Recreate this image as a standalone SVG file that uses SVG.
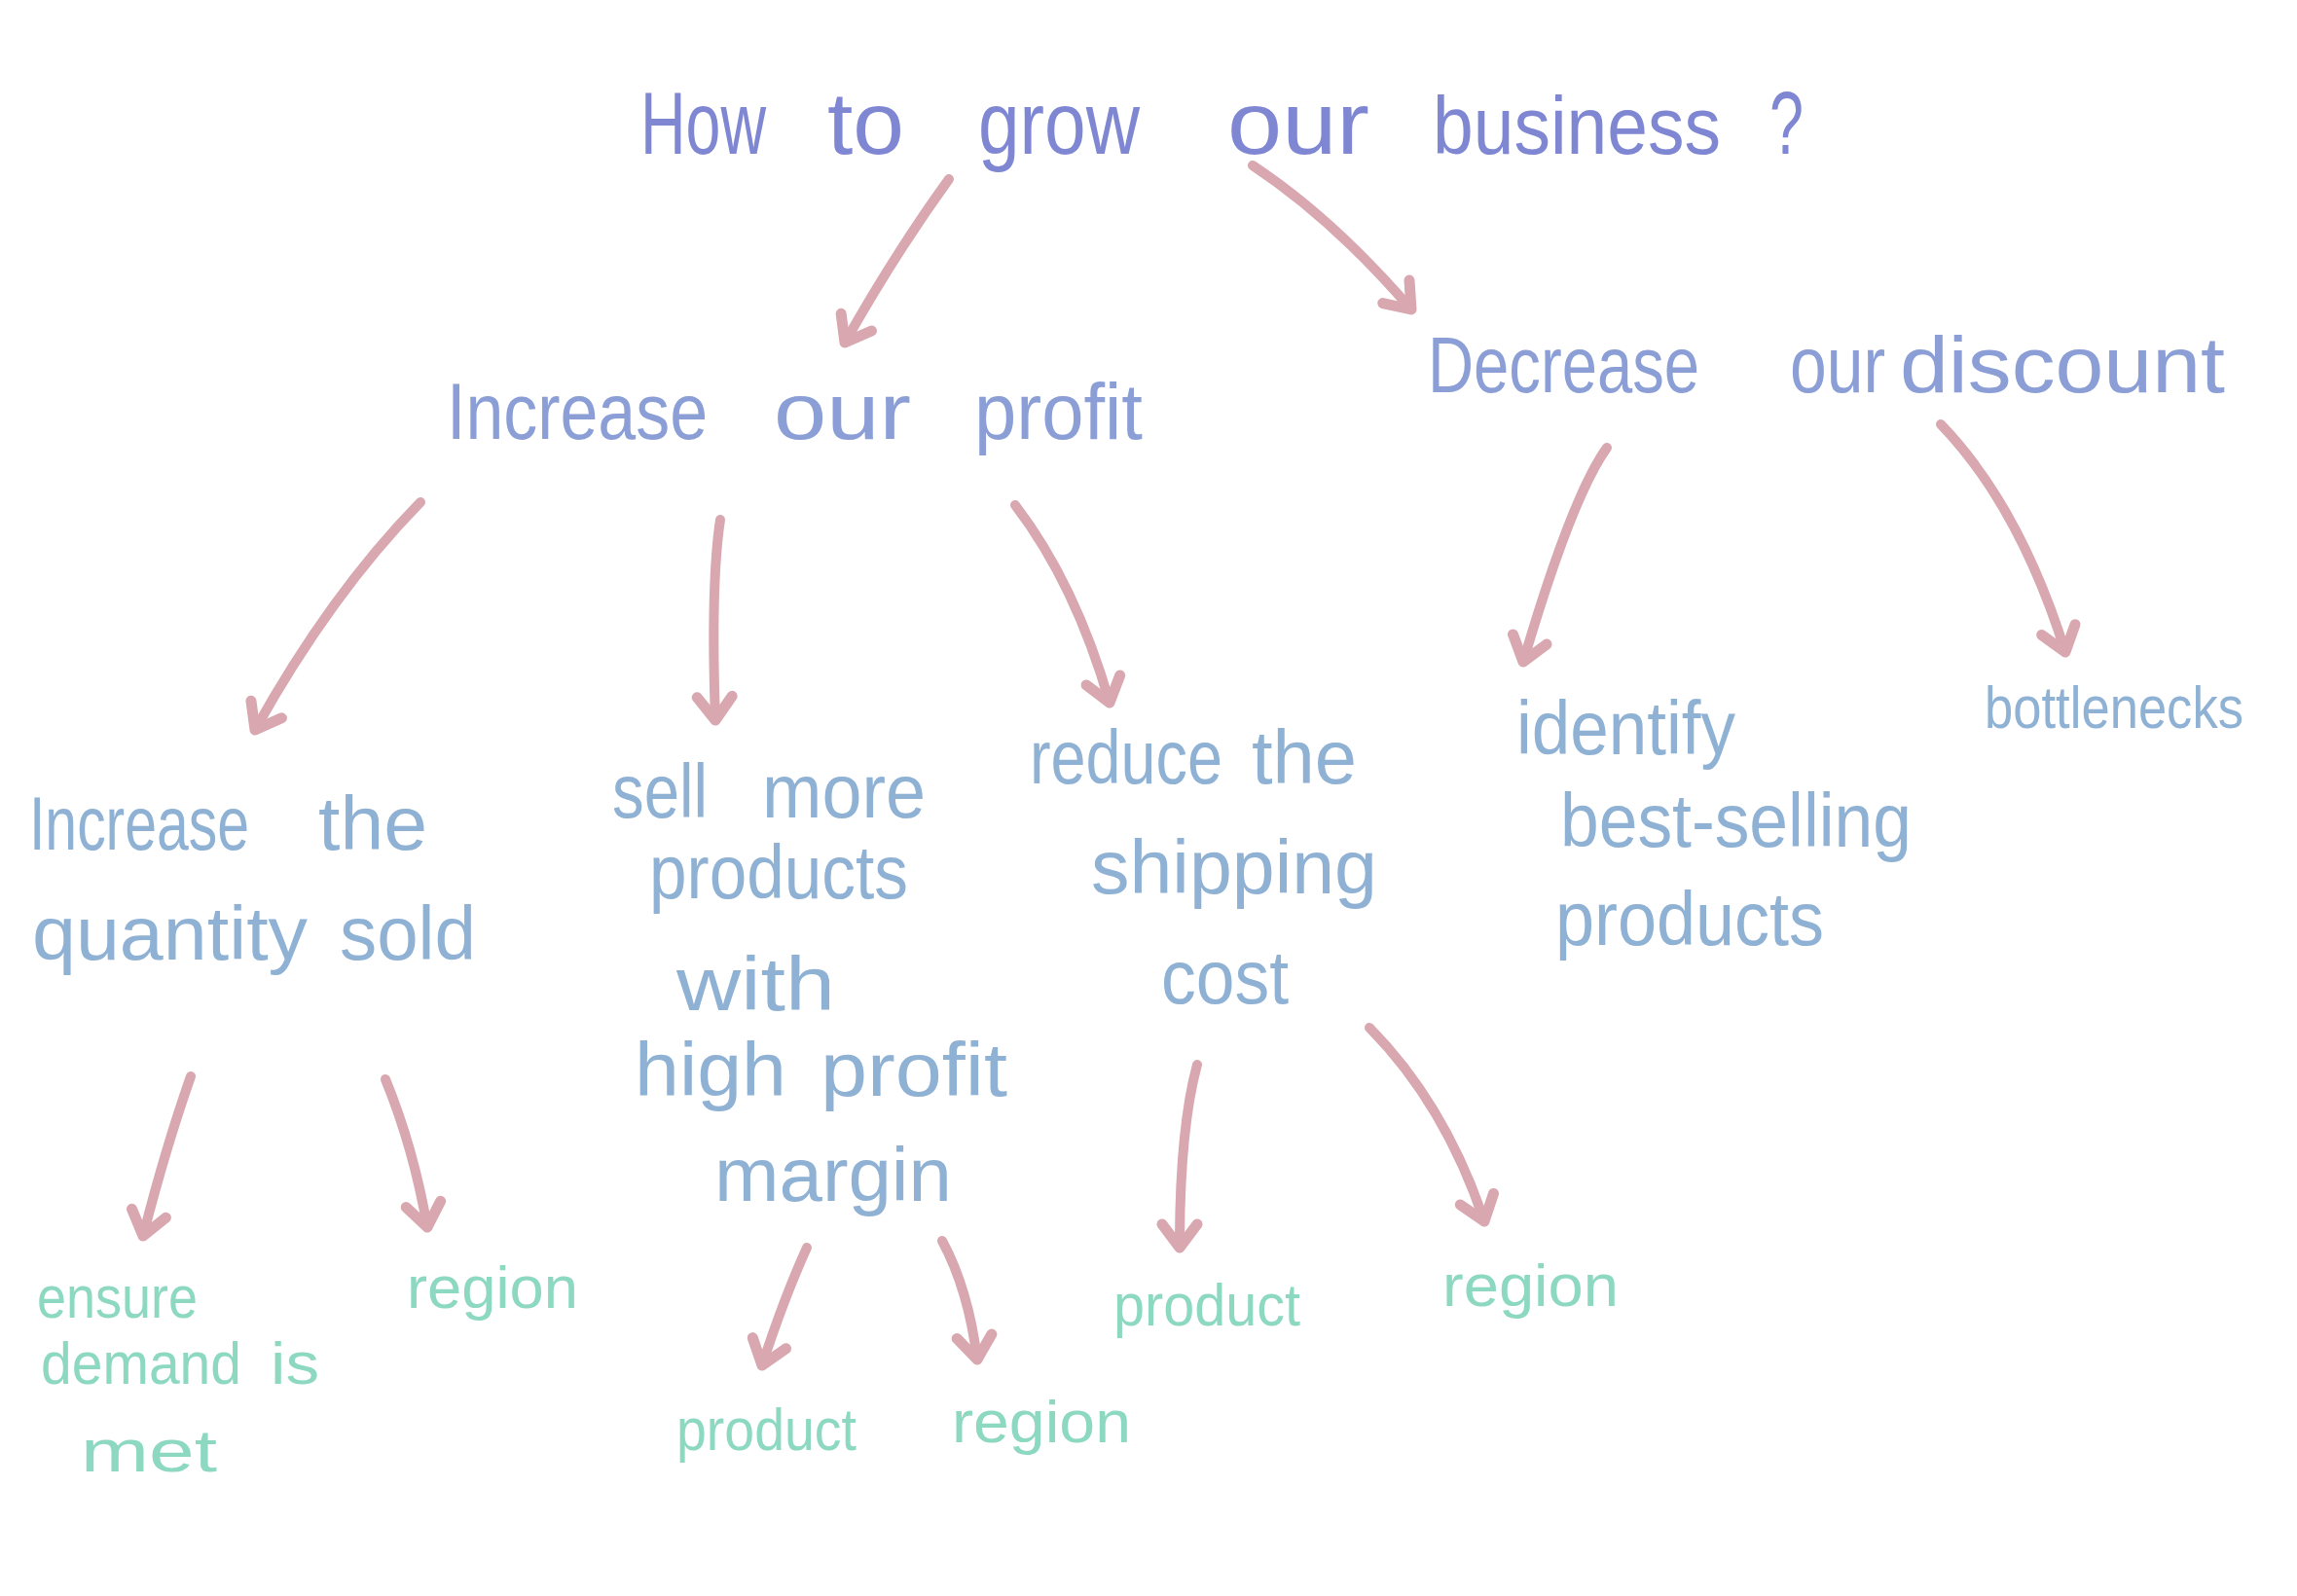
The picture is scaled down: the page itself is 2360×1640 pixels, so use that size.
<svg xmlns="http://www.w3.org/2000/svg" width="2360" height="1640" viewBox="0 0 2360 1640">
<style>
text{font-family:"Liberation Sans","DejaVu Sans",sans-serif;}
.t1{font-size:90px;fill:#7f87d3;}
.t2{font-size:82px;fill:#8b9fd6;}
.t3{font-size:78px;fill:#8eb1d4;}
.t4{font-size:62px;fill:#8dd8c0;}
.arr{fill:none;stroke:#d8a7af;stroke-width:10;stroke-linecap:round;stroke-linejoin:round;}
</style>
<defs>
<marker id="ah" markerUnits="userSpaceOnUse" markerWidth="70" markerHeight="70" viewBox="-35 -35 70 70" refX="0" refY="0" orient="auto">
<path d="M-24,-18 L0,0 L-24,18" fill="none" stroke="#d8a7af" stroke-width="11" stroke-linecap="round" stroke-linejoin="round"/>
</marker>
</defs>
<rect width="2360" height="1640" fill="#ffffff"/>
<g id="connectors">
<path class="arr" marker-end="url(#ah)" d="M975,184 Q920,260 868,352"/>
<path class="arr" marker-end="url(#ah)" d="M1287,170 Q1370,225 1450,318"/>
<path class="arr" marker-end="url(#ah)" d="M432,516 Q340,610 262,750"/>
<path class="arr" marker-end="url(#ah)" d="M740,534 Q730,600 735,740"/>
<path class="arr" marker-end="url(#ah)" d="M1043,519 Q1105,600 1140,722"/>
<path class="arr" marker-end="url(#ah)" d="M1651,460 Q1615,510 1565,680"/>
<path class="arr" marker-end="url(#ah)" d="M1994,436 Q2075,520 2122,670"/>
<path class="arr" marker-end="url(#ah)" d="M196,1106 Q170,1180 147,1270"/>
<path class="arr" marker-end="url(#ah)" d="M396,1109 Q425,1180 439,1261"/>
<path class="arr" marker-end="url(#ah)" d="M829,1282 Q805,1335 783,1403"/>
<path class="arr" marker-end="url(#ah)" d="M968,1275 Q995,1325 1004,1397"/>
<path class="arr" marker-end="url(#ah)" d="M1230,1094 Q1212,1160 1212,1282"/>
<path class="arr" marker-end="url(#ah)" d="M1407,1056 Q1485,1135 1525,1255"/>
</g>
<g id="node-root">
<text class="t1" x="658" y="158" textLength="129" lengthAdjust="spacingAndGlyphs">How</text>
<text class="t1" x="850" y="158" textLength="79" lengthAdjust="spacingAndGlyphs">to</text>
<text class="t1" x="1005" y="158" textLength="166" lengthAdjust="spacingAndGlyphs">grow</text>
<text class="t1" x="1261" y="158" textLength="146" lengthAdjust="spacingAndGlyphs">our</text>
<text class="t1" x="1472" y="158" style="font-size:84px" textLength="296" lengthAdjust="spacingAndGlyphs">business</text>
<text class="t1" x="1818" y="158" textLength="35" lengthAdjust="spacingAndGlyphs">?</text>
</g>
<g id="node-increase-profit">
<text class="t2" x="459" y="451" textLength="268" lengthAdjust="spacingAndGlyphs">Increase</text>
<text class="t2" x="795" y="451" textLength="141" lengthAdjust="spacingAndGlyphs">our</text>
<text class="t2" x="1001" y="451" textLength="173" lengthAdjust="spacingAndGlyphs">profit</text>
</g>
<g id="node-decrease-discount">
<text class="t2" x="1467" y="403" textLength="279" lengthAdjust="spacingAndGlyphs">Decrease</text>
<text class="t2" x="1839" y="403" textLength="98" lengthAdjust="spacingAndGlyphs">our</text>
<text class="t2" x="1952" y="403" textLength="334" lengthAdjust="spacingAndGlyphs">discount</text>
</g>
<g id="node-increase-quantity">
<text class="t3" x="30" y="873" textLength="226" lengthAdjust="spacingAndGlyphs">Increase</text>
<text class="t3" x="327" y="873" textLength="112" lengthAdjust="spacingAndGlyphs">the</text>
<text class="t3" x="33" y="986" textLength="283" lengthAdjust="spacingAndGlyphs">quantity</text>
<text class="t3" x="349" y="986" textLength="140" lengthAdjust="spacingAndGlyphs">sold</text>
</g>
<g id="node-sell-more">
<text class="t3" x="629" y="840" textLength="98" lengthAdjust="spacingAndGlyphs">sell</text>
<text class="t3" x="783" y="840" textLength="168" lengthAdjust="spacingAndGlyphs">more</text>
<text class="t3" x="667" y="923" textLength="266" lengthAdjust="spacingAndGlyphs">products</text>
<text class="t3" x="695" y="1038" textLength="163" lengthAdjust="spacingAndGlyphs">with</text>
<text class="t3" x="652" y="1126" textLength="156" lengthAdjust="spacingAndGlyphs">high</text>
<text class="t3" x="843" y="1126" textLength="192" lengthAdjust="spacingAndGlyphs">profit</text>
<text class="t3" x="734" y="1234" textLength="244" lengthAdjust="spacingAndGlyphs">margin</text>
</g>
<g id="node-reduce-shipping">
<text class="t3" x="1058" y="805" textLength="198" lengthAdjust="spacingAndGlyphs">reduce</text>
<text class="t3" x="1286" y="805" textLength="108" lengthAdjust="spacingAndGlyphs">the</text>
<text class="t3" x="1121" y="918" textLength="294" lengthAdjust="spacingAndGlyphs">shipping</text>
<text class="t3" x="1193" y="1031" textLength="131" lengthAdjust="spacingAndGlyphs">cost</text>
</g>
<g id="node-identify">
<text class="t3" x="1558" y="775" textLength="225" lengthAdjust="spacingAndGlyphs">identify</text>
<text class="t3" x="1603" y="870" textLength="361" lengthAdjust="spacingAndGlyphs">best-selling</text>
<text class="t3" x="1598" y="971" textLength="276" lengthAdjust="spacingAndGlyphs">products</text>
</g>
<g id="node-bottlenecks">
<text class="t3" x="2039" y="748" style="font-size:62px" textLength="266" lengthAdjust="spacingAndGlyphs">bottlenecks</text>
</g>
<g id="node-ensure-demand">
<text class="t4" x="38" y="1354" textLength="165" lengthAdjust="spacingAndGlyphs">ensure</text>
<text class="t4" x="42" y="1422" textLength="206" lengthAdjust="spacingAndGlyphs">demand</text>
<text class="t4" x="278" y="1422" textLength="50" lengthAdjust="spacingAndGlyphs">is</text>
<text class="t4" x="83" y="1512" textLength="140" lengthAdjust="spacingAndGlyphs">met</text>
</g>
<g id="node-region-1">
<text class="t4" x="418" y="1344" textLength="176" lengthAdjust="spacingAndGlyphs">region</text>
</g>
<g id="node-product-2">
<text class="t4" x="695" y="1490" textLength="185" lengthAdjust="spacingAndGlyphs">product</text>
</g>
<g id="node-region-3">
<text class="t4" x="978" y="1482" textLength="184" lengthAdjust="spacingAndGlyphs">region</text>
</g>
<g id="node-product-4">
<text class="t4" x="1144" y="1362" textLength="192" lengthAdjust="spacingAndGlyphs">product</text>
</g>
<g id="node-region-5">
<text class="t4" x="1482" y="1342" textLength="181" lengthAdjust="spacingAndGlyphs">region</text>
</g>
</svg>
